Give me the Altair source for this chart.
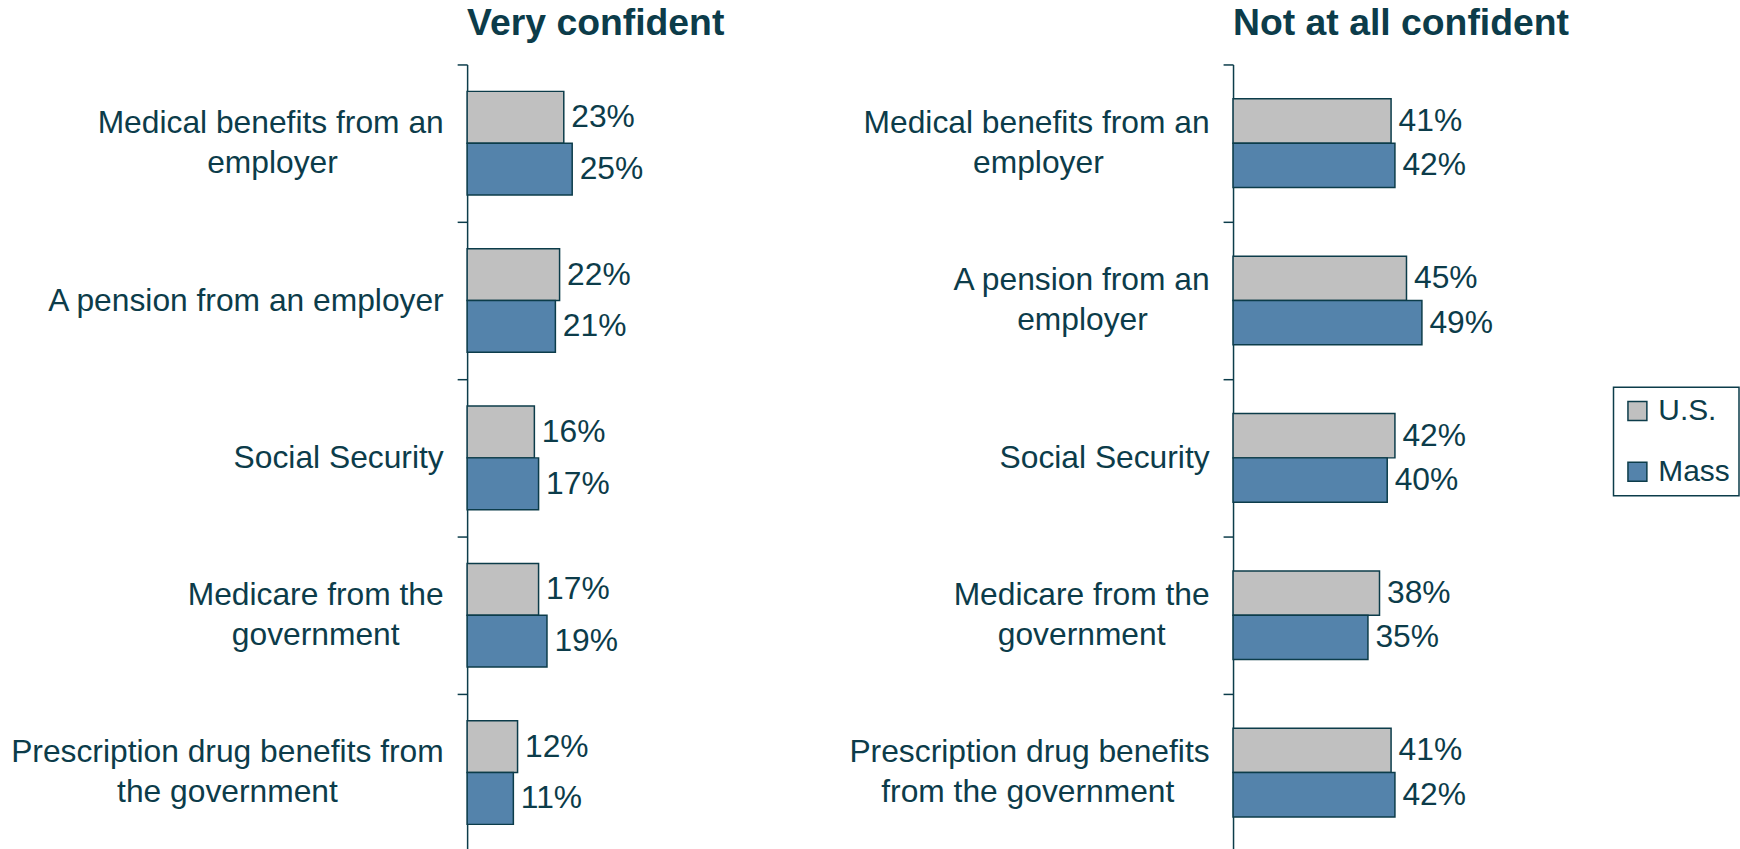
import json
import altair as alt
import pandas as pd

# ---- data ----
categories = [
    "Medical benefits from an employer",
    "A pension from an employer",
    "Social Security",
    "Medicare from the government",
    "Prescription drug benefits from the government",
]
series = ["U.S.", "Mass"]
very_us = [23, 22, 16, 17, 12]
very_mass = [25, 21, 17, 19, 11]
notall_us = [41, 45, 42, 38, 41]
notall_mass = [42, 49, 40, 35, 42]

left_lines = [
    ["Medical benefits from an", "employer"],
    ["A pension from an employer"],
    ["Social Security"],
    ["Medicare from the", "government"],
    ["Prescription drug benefits from", "the government"],
]
right_lines = [
    ["Medical benefits from an", "employer"],
    ["A pension from an", "employer"],
    ["Social Security"],
    ["Medicare from the", "government"],
    ["Prescription drug benefits", "from the government"],
]
# trailing no-break spaces used to centre the shorter line under the longer one
left_pads = [12, 0, 0, 5, 12]
right_pads = [12, 7, 0, 5, 4]

DARK = "#0c3c4a"
GRAY = "#c0c0c0"
BLUE = "#5483ab"
FONT = "Liberation Sans, Arial, sans-serif"
LABEL_SIZE = 31.9


def label_expr(lines_list, pads):
    parts = []
    for cat, lines, pad in zip(categories, lines_list, pads):
        ls = list(lines)
        if len(ls) > 1 and pad:
            ls[1] = ls[1] + "\u00a0" * pad + "\u200b"
        arr = "[" + ",".join(json.dumps(s, ensure_ascii=False) for s in ls) + "]"
        parts.append(f"datum.value == {json.dumps(cat)} ? {arr}")
    return " : ".join(parts) + " : datum.label"


def baseline_cond(lines_list):
    two = [c for c, l in zip(categories, lines_list) if len(l) > 1]
    test = "indexof([" + ",".join(json.dumps(c) for c in two) + "], datum.value) >= 0"
    return {"condition": {"test": test, "value": "line-bottom"}, "value": "middle"}


def panel(us, mass, title, lines, pads, dmax, width, qpad):
    df = pd.DataFrame({
        "category": categories * 2,
        "series": ["U.S."] * len(us) + ["Mass"] * len(mass),
        "value": us + mass,
    })
    base = alt.Chart(df).encode(
        y=alt.Y(
            "category:N",
            sort=categories,
            title=None,
            scale=alt.Scale(paddingInner=0, paddingOuter=0),
            axis=alt.Axis(
                domainColor=DARK, domainWidth=1.5,
                tickColor=DARK, tickWidth=1.5, tickSize=10, tickBand="extent",
                labelFont=FONT, labelFontSize=LABEL_SIZE, labelColor=DARK,
                labelPadding=14, labelLimit=700, labelLineHeight=40,
                labelAlign="right", labelBaseline=baseline_cond(lines),
                labelOverlap=False, labelBound=False,
                labelExpr=label_expr(lines, pads),
                grid=False, title=None,
            ),
        ),
        yOffset=alt.YOffset(
            "series:N", sort=series,
            scale=alt.Scale(paddingInner=0, paddingOuter=qpad),
        ),
        x=alt.X("value:Q", scale=alt.Scale(domain=[0, dmax], nice=False, zero=True), axis=None),
    )
    bars = base.mark_bar(stroke=DARK, strokeWidth=1.5, cornerRadius=0).encode(
        color=alt.Color(
            "series:N", sort=series,
            scale=alt.Scale(domain=series, range=[GRAY, BLUE]),
            legend=alt.Legend(
                orient="none", legendX=1151, legendY=324, title=None,
                symbolType="square", symbolSize=361,
                symbolStrokeColor=DARK, symbolStrokeWidth=1.5,
                labelFont=FONT, labelFontSize=30, labelColor=DARK,
                labelOffset=6, rowPadding=31, padding=9,
                strokeColor=DARK,
            ),
        )
    )
    text = base.mark_text(
        align="left", baseline="middle", dx=7.5,
        font=FONT, fontSize=LABEL_SIZE, color=DARK,
    ).transform_calculate(lab="datum.value + '%'").encode(text="lab:N")
    return alt.layer(bars, text).properties(
        width=width, height=790,
        title=alt.TitleParams(
            text=title, anchor="start", frame="group", font=FONT,
            fontSize=37.5, fontWeight="bold", color=DARK,
            offset=6,
        ),
    )


left = panel(very_us, very_mass, "Very confident", left_lines, left_pads, 70, 295.4, 0.52)
right = panel(notall_us, notall_mass, "Not at all confident", right_lines, right_pads, 90, 348.3, 0.775)

chart = (
    alt.hconcat(left, right, spacing=87)
    .resolve_scale(x="independent", y="independent", yOffset="independent", color="shared")
    .configure_view(stroke=None)
    .configure_legend(strokeWidth=1.5)
    .properties(padding={"left": 10, "top": 3, "right": 0, "bottom": 0}, background="white")
)

chart.save("out.html", embed_options={"renderer": "svg", "actions": False})
